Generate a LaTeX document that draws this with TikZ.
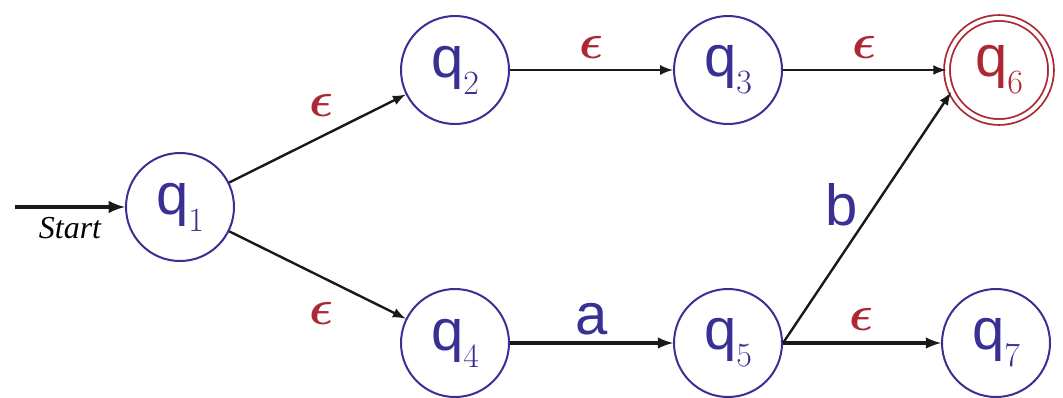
\documentclass[tikz,border=0pt]{standalone}
\usepackage{fontspec}
\usepackage{amsmath}
\newfontfamily\qfont{Liberation Sans}
\newfontfamily\startfont{Liberation Serif}
\definecolor{stateblue}{RGB}{58,48,148}
\definecolor{acceptred}{RGB}{172,40,52}
\newcommand{\statesub}[1]{\raisebox{-8.5pt}{\fontsize{17}{17}\selectfont\rmfamily #1}}

\begin{document}
\begin{tikzpicture}[x=1pt, y=1pt, node distance=136.5pt, auto,
	    state/.style={circle, draw=stateblue, text=stateblue, line width=1pt, minimum size=54pt, inner sep=0pt, font=\fontsize{29}{29}\selectfont\qfont},
	    accept/.style={state, draw=acceptred, text=acceptred, double, double distance=2pt, line width=0.9pt, minimum size=52pt},
	    line/.style={draw=black!90, line width=1.2pt, -latex},
	    eps/.style={font=\fontsize{31}{31}\selectfont, text=acceptred},
	    sym/.style={font=\fontsize{29}{29}\selectfont\qfont, text=stateblue}]

	    \useasboundingbox (0,0) rectangle (531.5,-198.5);

	    \node [state] (q1) at (90,-103.5) {q\statesub{1}};
	    \node [state] (q2) at (227.5,-35) {q\statesub{2}};
	    \node [state] (q4) at (227.5,-171.5) {q\statesub{4}};
	    \node [state, right of=q2] (q3) {q\statesub{3}};
	    \node [accept, right of=q3, node distance=135.5pt] (q6) {q\statesub{6}};
	    \node [state, right of=q4] (q5) {q\statesub{5}};
	    \node [state, right of=q5, node distance=134pt] (q7) {q\statesub{7}};
	    \coordinate (start) at (7.5,-103.5);

	    \path [line, line width=1.8pt] (start) -- node[below, pos=0.5, yshift=-1pt, font=\fontsize{16}{16}\selectfont\startfont\itshape] {Start} (q1);
	    \path [line] (q1) -- node[eps, above left, pos=0.5, xshift=12pt, yshift=7pt] {$\boldsymbol{\epsilon}$} (q2);
	    \path [line] (q1) -- node[eps, below left, pos=0.5, xshift=12pt, yshift=-10pt] {$\boldsymbol{\epsilon}$} (q4);
	    \path [line] (q2) -- node[eps, above, yshift=2pt] {$\boldsymbol{\epsilon}$} (q3);
	    \path [line] (q3) -- node[eps, above, yshift=2pt] {$\boldsymbol{\epsilon}$} (q6);
	    \path [line, line width=1.6pt] (q4) -- node[sym, above] {a} (q5);
	    \path [line] (q5.east) -- node[sym, left, pos=0.55, xshift=-5pt] {b} (q6.205);
	    \path [line, line width=1.6pt] (q5.east) -- node[eps, above, yshift=2pt] {$\boldsymbol{\epsilon}$} (q7);
	\end{tikzpicture}
\end{document}
